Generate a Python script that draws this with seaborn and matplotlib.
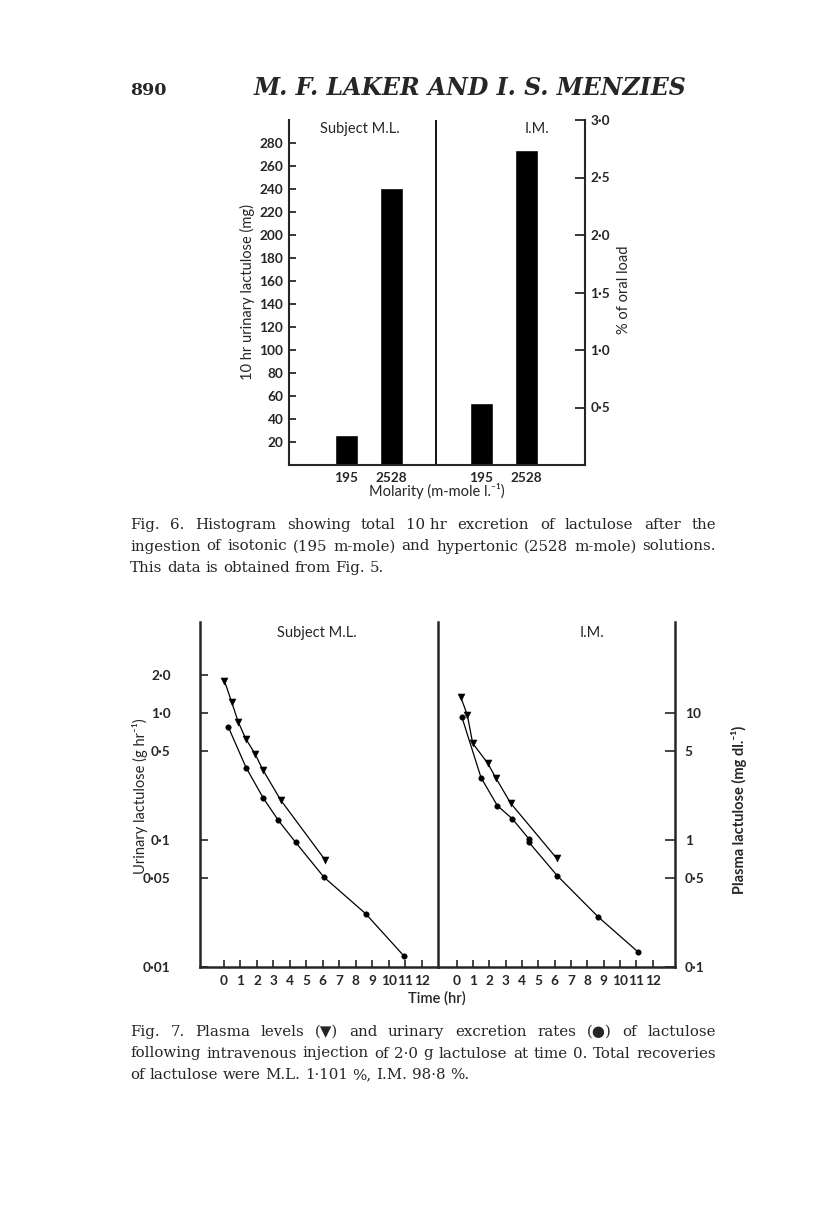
import numpy as np
import pandas as pd
import matplotlib
matplotlib.use("Agg")
import matplotlib.pyplot as plt
import seaborn as sns
from matplotlib.ticker import FixedLocator, NullLocator

# ---------------- data ----------------
# Fig. 6 : 10 hr urinary lactulose (mg)
fig6_subject = ["M.L.", "M.L.", "I.M.", "I.M."]
fig6_molarity = ["195", "2528", "195", "2528"]
fig6_lactulose_mg = [26, 241, 54, 274]

# Fig. 7 : Subject M.L.
ml_plasma_hr = [0.02, 0.47, 0.87, 1.32, 1.88, 2.35, 3.44, 6.13]
ml_plasma_mgdl = [18.1, 12.2, 8.5, 6.3, 4.8, 3.6, 2.07, 0.70]
ml_urine_hr = [0.26, 1.34, 2.39, 3.30, 4.35, 6.07, 8.6, 10.95]
ml_urine_ghr = [0.78, 0.373, 0.214, 0.143, 0.096, 0.051, 0.0263, 0.0121]
# Fig. 7 : Subject I.M.
im_plasma_hr = [0.24, 0.65, 0.98, 1.90, 2.41, 3.31, 6.12]
im_plasma_mgdl = [13.5, 9.7, 5.8, 4.04, 3.07, 1.95, 0.72]
im_urine_hr = [0.31, 1.49, 2.49, 3.41, 4.43, 4.43, 6.15, 8.67, 11.12]
im_urine_ghr = [0.94, 0.311, 0.187, 0.147, 0.102, 0.096, 0.0526, 0.0248, 0.0131]

left_ticks6 = list(range(20, 281, 20))
right_ticks6 = [0.5, 1.0, 1.5, 2.0, 2.5, 3.0]
urine_ticks = [0.01, 0.05, 0.1, 0.5, 1.0, 2.0]
urine_labels = ["0·01", "0·05", "0·1", "0·5", "1·0", "2·0"]
plasma_ticks = [0.1, 0.5, 1, 5, 10]
plasma_labels = ["0·1", "0·5", "1", "5", "10"]
hours = list(range(0, 13))

# ---------------- style ----------------
sns.set_style("ticks")
plt.rcParams["font.family"] = ["Lato", "DejaVu Sans"]
plt.rcParams["axes.linewidth"] = 1.5
SANS = ["Lato", "DejaVu Sans"]
SERIF = ["DejaVu Serif", "DejaVu Sans"]

W, H = 816, 1221
fig = plt.figure(figsize=(W / 100, H / 100), dpi=100)
fig.patch.set_facecolor("white")


def px_axes(l, t, r, b):
    return fig.add_axes([l / W, 1 - b / H, (r - l) / W, (b - t) / H])


def ftext(x, y, s, **kw):
    return fig.text(x / W, 1 - y / H, s, **kw)


TICKFS = 9.8

# ---------------- Fig. 6 ----------------
ax6 = px_axes(289, 120, 585, 465)
slots = ["M.L. 195", "M.L. 2528", "gap", "I.M. 195", "I.M. 2528"]
df6 = pd.DataFrame({"slot": [f"{s} {m}" for s, m in zip(fig6_subject, fig6_molarity)],
                    "mg": fig6_lactulose_mg})
sns.barplot(data=df6, x="slot", y="mg", order=slots, color="black",
            width=0.51, errorbar=None, ax=ax6, saturation=1)
ax6.set_xlim(-1.27, 5.31)
ax6.set_ylim(0, 300)
ax6.axvline(2, color="black", lw=1.3)
ax6.set_xticks([0, 1, 3, 4], ["195", "2528", "195", "2528"])
ax6.set_yticks(left_ticks6, [str(v) for v in left_ticks6])
ax6.set_xlabel("")
ax6.set_ylabel("")
ax6.spines["top"].set_visible(False)
ax6.tick_params(axis="x", length=0, pad=5, labelsize=TICKFS)
ax6.tick_params(axis="y", direction="in", length=5, width=1.3, pad=4, labelsize=TICKFS)
for lab in ax6.get_xticklabels() + ax6.get_yticklabels():
    lab.set_fontweight("bold")
ax6b = ax6.twinx()
ax6b.set_ylim(0, 3.0)
ax6b.set_yticks(right_ticks6, [f"{v:.1f}".replace(".", "·") for v in right_ticks6])
ax6b.tick_params(axis="y", direction="in", length=7, width=1.3, pad=4, labelsize=TICKFS)
for lab in ax6b.get_yticklabels():
    lab.set_fontweight("bold")
for s in ["top", "left", "bottom"]:
    ax6b.spines[s].set_visible(False)
ax6.spines["right"].set_visible(False)

ax6.text(0.24, 0.974, "Subject M.L.", transform=ax6.transAxes, ha="center", va="center",
         fontsize=10.5, family=SANS)
ax6.text(0.838, 0.974, "I.M.", transform=ax6.transAxes, ha="center", va="center",
         fontsize=10.5, family=SANS)
ftext(247, 292, "10 hr urinary lactulose (mg)", rotation=90, ha="center", va="center",
      fontsize=10.5, family=SANS)
ftext(624, 290, "% of oral load", rotation=90, ha="center", va="center",
      fontsize=10.5, family=SANS)
ftext(437, 491, "Molarity (m-mole l.⁻¹)", ha="center", va="center", fontsize=10.5, family=SANS)

# ---------------- Fig. 7 ----------------
axL = px_axes(200, 622, 438, 967)
axR = px_axes(438, 622, 675, 967)
axR.patch.set_visible(False)
panels = [
    (axL, (-1.457, 12.99), ml_plasma_hr, ml_plasma_mgdl, ml_urine_hr, ml_urine_ghr),
    (axR, (-1.145, 13.37), im_plasma_hr, im_plasma_mgdl, im_urine_hr, im_urine_ghr),
]
twins = []
for ax, xl, pt, pv, ut, uv in panels:
    ax.set_yscale("log")
    tw = ax.twinx()
    tw.set_yscale("log")
    tw.patch.set_visible(False)
    twins.append(tw)
    sns.lineplot(x=ut, y=uv, ax=ax, color="black", lw=0.9, estimator=None, sort=False)
    sns.scatterplot(x=ut, y=uv, ax=ax, color="black", marker="o", s=16, edgecolor="black",
                    linewidth=0.3, zorder=3)
    sns.lineplot(x=pt, y=pv, ax=tw, color="black", lw=0.9, estimator=None, sort=False)
    sns.scatterplot(x=pt, y=pv, ax=tw, color="black", marker="v", s=26, edgecolor="black",
                    linewidth=0.3, zorder=3)
    ax.set_xlim(*xl)
    ax.set_ylim(0.01, 5.24)
    tw.set_ylim(0.1, 52.4)
    ax.set_xticks(hours, [str(h) for h in hours])
    ax.xaxis.set_minor_locator(NullLocator())
    ax.tick_params(axis="x", direction="in", length=5, width=1.2, pad=6, labelsize=TICKFS)
    for lab in ax.get_xticklabels():
        lab.set_fontweight("bold")
    ax.set_xlabel("")
    ax.set_ylabel("")
    tw.set_ylabel("")
    ax.spines["top"].set_visible(False)
    for s in ["left", "bottom", "right"]:
        ax.spines[s].set_linewidth(1.8)
    for s in ["top", "left", "bottom", "right"]:
        tw.spines[s].set_visible(False)

# left panel: urinary axis
axL.yaxis.set_major_locator(FixedLocator(urine_ticks))
axL.set_yticklabels(urine_labels)
axL.yaxis.set_minor_locator(NullLocator())
axL.tick_params(axis="y", which="major", direction="in", length=6, width=1.2, pad=21,
                labelsize=TICKFS, right=False)
for lab in axL.get_yticklabels():
    lab.set_fontweight("bold")
twins[0].yaxis.set_visible(False)

# right panel: plasma axis
axR.spines["left"].set_visible(False)
axR.spines["right"].set_visible(False)
axR.yaxis.set_major_locator(NullLocator())
axR.yaxis.set_minor_locator(NullLocator())
twR = twins[1]
twR.spines["right"].set_visible(True)
twR.spines["right"].set_linewidth(1.8)
twR.yaxis.set_major_locator(FixedLocator(plasma_ticks))
twR.set_yticklabels(plasma_labels)
twR.yaxis.set_minor_locator(NullLocator())
twR.tick_params(axis="y", direction="in", length=7, width=1.2, pad=7, labelsize=TICKFS)
for lab in twR.get_yticklabels():
    lab.set_fontweight("bold")

axL.text(0.49, 0.968, "Subject M.L.", transform=axL.transAxes, ha="center", va="center",
         fontsize=10.5, family=SANS)
axR.text(0.65, 0.968, "I.M.", transform=axR.transAxes, ha="center", va="center",
         fontsize=10.5, family=SANS)
ftext(437, 998, "Time (hr)", ha="center", va="center", fontsize=10.5, family=SANS,
      fontweight="semibold")
ftext(140, 796, "Urinary lactulose (g hr⁻¹)", rotation=90, ha="center", va="center",
      fontsize=10.5, family=SANS)
ftext(739, 810, "Plasma lactulose (mg dl.⁻¹)", rotation=90, ha="center", va="center",
      fontsize=10.5, family=SANS, fontweight="bold")

# ---------------- page text ----------------
renderer = fig.canvas.get_renderer()

ftext(130, 95, "890", ha="left", va="baseline", fontsize=12.5, family=SERIF, fontweight="bold")
ftext(470, 95, "M. F. LAKER AND I. S. MENZIES", ha="center", va="baseline", fontsize=17,
      family=SERIF, style="italic", fontweight="bold")


def text_width(s, size):
    t = ftext(0, 0, s, fontsize=size, family=SERIF)
    w = t.get_window_extent(renderer).width
    t.remove()
    return w


def fit_size(lines, width):
    widest = max(text_width(line.replace("~", " "), 10.0) for line in lines[:-1])
    return 10.0 * 0.985 * width / widest


def caption(lines, x0, x1, y0, dy, size):
    width = x1 - x0
    space = text_width("a a", size) - text_width("aa", size)
    for i, line in enumerate(lines):
        words = line.split(" ")
        y = y0 + i * dy
        ts = [ftext(x0, y, w.replace("~", " "), ha="left", va="baseline", fontsize=size,
                    family=SERIF) for w in words]
        ws = [t.get_window_extent(renderer).width for t in ts]
        if i < len(lines) - 1 and len(ws) > 1:
            gap = (width - sum(ws)) / (len(ws) - 1)
        else:
            gap = space
        x = x0
        for t, w in zip(ts, ws):
            t.set_x(x / W)
            x += w + gap


cap6 = ["Fig. 6. Histogram showing total 10~hr excretion of lactulose after the",
        "ingestion of isotonic (195 m-mole) and hypertonic (2528 m-mole) solutions.",
        "This data is obtained from Fig. 5."]
cap7 = ["Fig. 7. Plasma levels (▼) and urinary excretion rates (●) of lactulose",
        "following intravenous injection of 2·0 g lactulose at time 0. Total recoveries",
        "of lactulose were M.L. 1·101 %, I.M. 98·8 %."]
csize = min(fit_size(cap6, 586), fit_size(cap7, 586))
caption(cap6, 130, 716, 529, 21.5, csize)
caption(cap7, 130, 716, 1036, 21.5, csize)

fig.savefig("out.png", dpi=100, facecolor="white")
